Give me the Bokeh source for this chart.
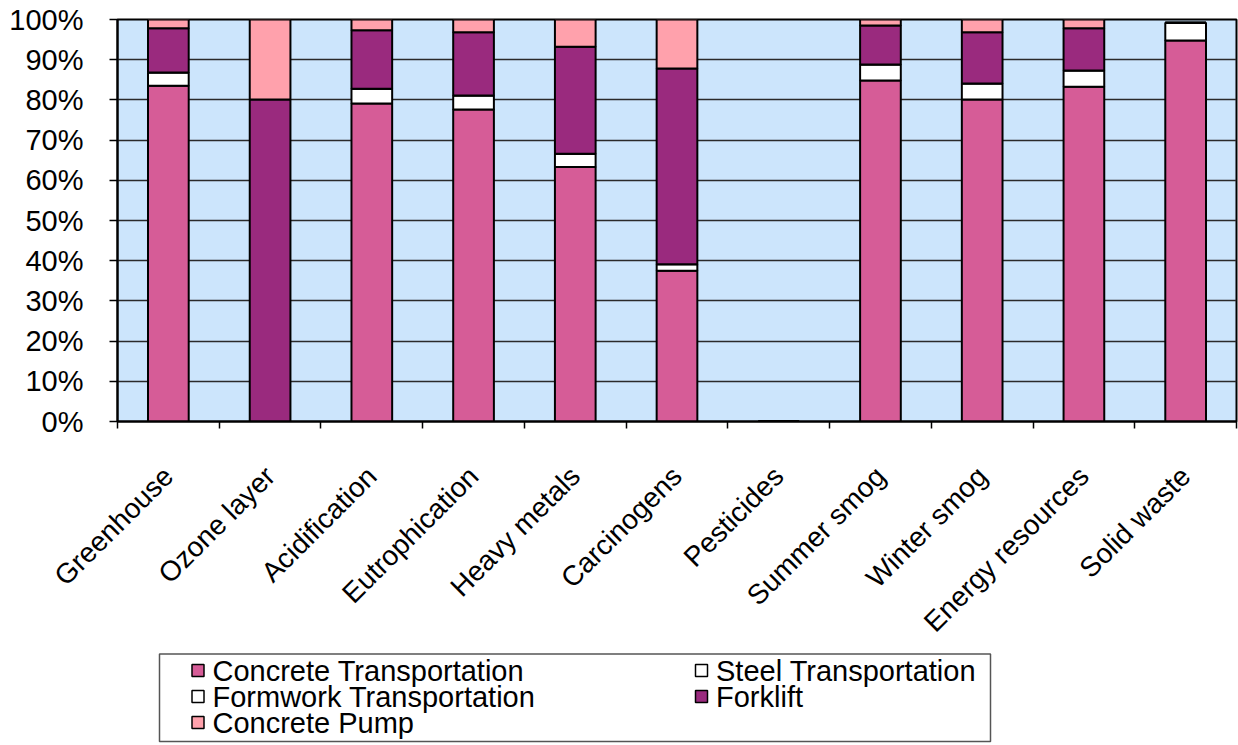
import math
from bokeh.plotting import figure
from bokeh.layouts import column
from bokeh.models import ColumnDataSource, Range1d, FixedTicker, PrintfTickFormatter
from bokeh.core.properties import value
from bokeh.embed import file_html
from bokeh.resources import INLINE

# Impact categories and each contributor's share (%) of the total
categories = ["Greenhouse", "Ozone layer", "Acidification", "Eutrophication", "Heavy metals",
              "Carcinogens", "Pesticides", "Summer smog", "Winter smog", "Energy resources",
              "Solid waste"]
concrete_transportation = [83.5, 0.0, 79.1, 77.6, 63.3, 37.5, 0.0, 84.8, 80.1, 83.3, 94.8]
steel_transportation = [3.3, 0.0, 3.7, 3.5, 3.3, 1.6, 0.0, 4.0, 4.0, 4.0, 4.4]
formwork_transportation = [0.0, 0.0, 0.0, 0.0, 0.0, 0.0, 0.0, 0.0, 0.0, 0.0, 0.0]
forklift = [11.0, 80.1, 14.5, 15.7, 26.6, 48.7, 0.0, 9.7, 12.7, 10.5, 0.0]
concrete_pump = [2.2, 19.9, 2.7, 3.2, 6.8, 12.2, 0.0, 1.5, 3.2, 2.2, 0.0]

series_names = ["Concrete Transportation", "Steel Transportation", "Formwork Transportation",
                "Forklift", "Concrete Pump"]
series_colors = ["#D65C97", "#FFFFFF", "#FFFFFF", "#9A2A7E", "#FFA1AC"]
y_ticks = list(range(0, 101, 10))

FONT = "Liberation Sans"
W = 1238
MAIN_H = 652
KEY_H = 745 - MAIN_H
LEFT, RIGHT = 117, 2

src = ColumnDataSource(dict(
    x=[i + 0.5 for i in range(len(categories))],
    c0=concrete_transportation, c1=steel_transportation, c2=formwork_transportation,
    c3=forklift, c4=concrete_pump,
))

p = figure(width=W, height=MAIN_H, x_range=Range1d(0, len(categories)), y_range=Range1d(0, 100),
           output_backend="svg", toolbar_location=None,
           min_border_left=LEFT, min_border_right=RIGHT, min_border_top=19,
           min_border_bottom=MAIN_H - 421)
p.background_fill_color = "#CCE5FC"
p.border_fill_color = "white"
p.outline_line_color = "black"
p.outline_line_width = 2

p.xgrid.visible = False
p.ygrid.ticker = FixedTicker(ticks=y_ticks)
p.ygrid.grid_line_color = "#2a2a2a"
p.ygrid.grid_line_width = 1.5

p.vbar_stack(["c0", "c1", "c2", "c3", "c4"], x="x", width=0.4, source=src,
             fill_color=series_colors, line_color="black", line_width=2)

# y axis: percent labels
p.yaxis.ticker = FixedTicker(ticks=y_ticks)
p.yaxis.formatter = PrintfTickFormatter(format="%d%%")
p.yaxis.axis_line_color = "black"
p.yaxis.axis_line_width = 2
p.yaxis.major_tick_out = 8
p.yaxis.major_tick_in = 0
p.yaxis.major_tick_line_color = "black"
p.yaxis.major_tick_line_width = 1.5
p.yaxis.minor_tick_line_color = None
p.yaxis.major_label_standoff = 26
p.yaxis.major_label_text_font = FONT
p.yaxis.major_label_text_font_size = "29px"
p.yaxis.major_label_text_color = "black"

# x axis: category names at centres, tick marks at the boundaries
p.xaxis.ticker = FixedTicker(ticks=[i + 0.5 for i in range(len(categories))],
                             minor_ticks=list(range(len(categories) + 1)))
p.xaxis.major_label_overrides = {i + 0.5: c for i, c in enumerate(categories)}
p.xaxis.major_tick_line_color = None
p.xaxis.minor_tick_line_color = "black"
p.xaxis.minor_tick_line_width = 1.5
p.xaxis.minor_tick_out = 7
p.xaxis.minor_tick_in = 0
p.xaxis.axis_line_color = "black"
p.xaxis.axis_line_width = 2
p.xaxis.major_label_orientation = math.pi / 4
p.xaxis.major_label_standoff = 43
p.xaxis.major_label_text_font = FONT
p.xaxis.major_label_text_font_size = "28px"
p.xaxis.major_label_text_color = "black"

# key panel below the chart; its frame lines up with the chart frame, so the
# x range is given in page pixels and y is measured downward from the panel top
key = figure(width=W, height=KEY_H, x_range=Range1d(LEFT, W - RIGHT), y_range=Range1d(KEY_H, 0),
             output_backend="svg", toolbar_location=None,
             min_border_left=LEFT, min_border_right=RIGHT,
             min_border_top=0, min_border_bottom=0)
key.axis.visible = False
key.grid.visible = False
key.outline_line_color = None
key.background_fill_color = "white"
key.border_fill_color = "white"

key.quad(left=[159], right=[990], top=[1.5], bottom=[89], fill_color=None,
         line_color="#555555", line_width=1.5)

col_x = [197.5, 701]
row_y = [18, 44, 70]
cols = [i % 2 for i in range(len(series_names))]
rows = [i // 2 for i in range(len(series_names))]
key_src = ColumnDataSource(dict(
    gx=[col_x[c] for c in cols],
    gy=[row_y[r] for r in rows],
    tx=[col_x[c] + 14.5 for c in cols],
    ty=[row_y[r] for r in rows],
    name=series_names,
    color=series_colors,
))
key.rect(x="gx", y="gy", width=12, height=12, width_units="screen", height_units="screen",
         fill_color="color", line_color="black", line_width=1.5, source=key_src)
key.text(x="tx", y="ty", text="name", source=key_src, text_font=value(FONT),
         text_font_size="29px", text_baseline="middle", text_align="left",
         text_color="black")

layout = column(p, key, spacing=0)
open("out.html", "w").write(file_html(layout, INLINE))
